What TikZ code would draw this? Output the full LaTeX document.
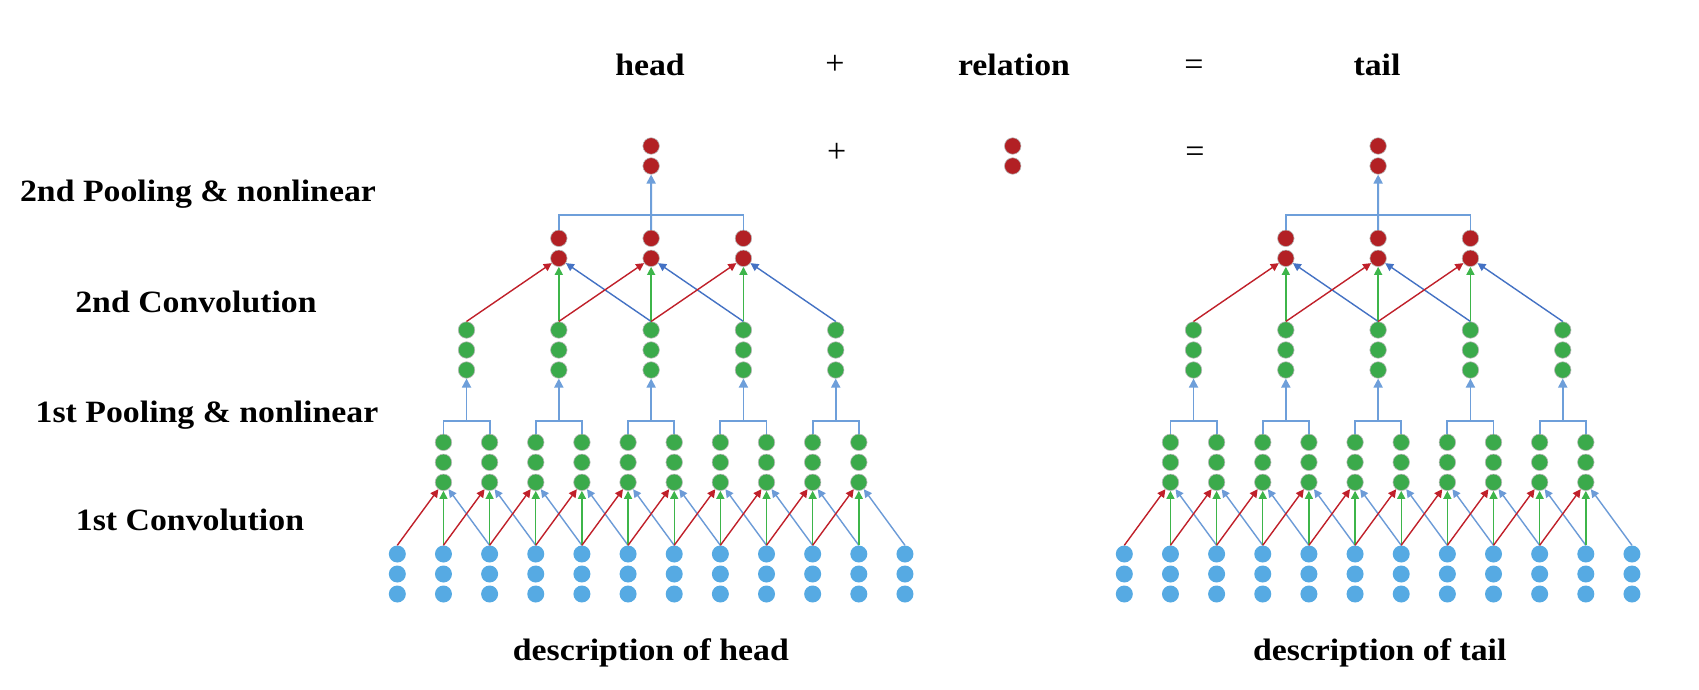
\documentclass[tikz,border=0pt]{standalone}
\usepackage{fontspec}
\setmainfont{Liberation Serif}
\newfontfamily\lblfont[FakeStretch=1.09]{Liberation Serif}
\usetikzlibrary{arrows.meta}
\definecolor{nred}{HTML}{B22024}
\definecolor{ngreen}{HTML}{3BAA4B}
\definecolor{nblue}{HTML}{56AAE3}
\definecolor{ared}{HTML}{C0202A}
\definecolor{agreen}{HTML}{3DB54A}
\definecolor{ablue}{HTML}{6C9BD7}
\definecolor{adblue}{HTML}{4472C4}
\definecolor{lblue}{HTML}{6E9FDA}
\begin{document}
\begin{tikzpicture}[x=1pt,y=-1pt,
  dot/.style={circle,inner sep=0pt,minimum size=16.5pt,draw=white!72!black,line width=0.6pt},
  rdot/.style={dot,fill=nred},
  gdot/.style={dot,fill=ngreen},
  bdot/.style={circle,inner sep=0pt,minimum size=17pt,fill=nblue},
  lbl/.style={font=\lblfont\bfseries\fontsize{31}{36}\selectfont,anchor=base,inner sep=0pt},
  op/.style={font=\fontsize{34}{38}\selectfont,inner sep=0pt},
  conv/.style={line width=1.4pt,-{Triangle[length=8pt,width=8pt]}},
  ra/.style={conv,draw=ared,fill=ared},
  ga/.style={conv,draw=agreen,fill=agreen},
  ba/.style={conv,draw=ablue,fill=ablue},
  bda/.style={conv,draw=adblue,fill=adblue},
  brk/.style={line width=1.8pt,draw=lblue},
  pool/.style={brk,-{Triangle[length=9pt,width=9pt]},fill=lblue}
]
\fill[white] (0,0) rectangle (1699,689);
\useasboundingbox (0,0) rectangle (1699,689);

% left labels
\node[lbl] (l1) at (198,201) {2nd Pooling \& nonlinear};
\node[lbl] (l2) at (196,312) {2nd Convolution};
\node[lbl] (l3) at (207,422) {1st Pooling \& nonlinear};
\node[lbl] (l4) at (190,530) {1st Convolution};

% top row
\node[lbl] (thead) at (650,75) {head};
\node[op] (tplus) at (835,65) {+};
\node[lbl] (trel) at (1014,75) {relation};
\node[op] (teq) at (1194,68) {=};
\node[lbl] (ttail) at (1377,75) {tail};

% middle row
\node[op] (mplus) at (836.7,153) {+};
\node[op] (meq) at (1195,154.5) {=};
\node[rdot] (rel-1) at (1012.7,146) {};
\node[rdot] (rel-2) at (1012.7,166) {};

% bottom
\node[lbl] (dhead) at (650.8,660) {description of head};
\node[lbl] (dtail) at (1379.7,660) {description of tail};

\foreach \ox/\p in {0/L,727/R}{
  % input
  \foreach \i in {0,...,11}{
    \foreach \r in {1,2,3}{
      \node[bdot] (b\p-\i-\r) at ({\ox+397.3+46.15*\i},{534+20*\r}) {};
    }
  }
  % first convolution
  \foreach \i in {1,...,10}{
    \foreach \r in {1,2,3}{
      \node[gdot] (g\p-\i-\r) at ({\ox+397.3+46.15*\i},{422.3+20*\r}) {};
    }
  }
  \foreach \i in {1,...,10}{
    \pgfmathtruncatemacro\im{\i-1}
    \pgfmathtruncatemacro\ip{\i+1}
    \draw[ra] (b\p-\im-1.north) -- (g\p-\i-3);
    \draw[ba] (b\p-\ip-1.north) -- (g\p-\i-3);
    \draw[ga] (b\p-\i-1.north) -- (g\p-\i-3);
  }
  % first pooling
  \foreach \k in {1,...,5}{
    \foreach \r in {1,2,3}{
      \node[gdot] (p\p-\k-\r) at ({\ox+397.3+46.15*(2*\k-0.5)},{310+20*\r}) {};
    }
    \pgfmathtruncatemacro\ka{2*\k-1}
    \pgfmathtruncatemacro\kb{2*\k}
    \coordinate (c\p-\k) at ({\ox+397.3+46.15*(2*\k-0.5)},421);
    \draw[brk] (g\p-\ka-1.north) |- (c\p-\k) -| (g\p-\kb-1.north);
    \draw[pool] (c\p-\k) -- (p\p-\k-3);
  }
  % second convolution
  \foreach \k in {2,3,4}{
    \foreach \r in {1,2}{
      \node[rdot] (r\p-\k-\r) at ({\ox+397.3+46.15*(2*\k-0.5)},{218.3+20*\r}) {};
    }
    \pgfmathtruncatemacro\km{\k-1}
    \pgfmathtruncatemacro\kp{\k+1}
    \draw[ra] (p\p-\km-1.north) -- (r\p-\k-2);
    \draw[bda] (p\p-\kp-1.north) -- (r\p-\k-2);
    \draw[ga] (p\p-\k-1.north) -- (r\p-\k-2);
  }
  % second pooling
  \node[rdot] (t\p-1) at ({\ox+651.1},146) {};
  \node[rdot] (t\p-2) at ({\ox+651.1},166) {};
  \coordinate (d\p) at ({\ox+651.1},215);
  \draw[brk] (r\p-2-1.north) |- (d\p) -| (r\p-4-1.north);
  \draw[pool] (r\p-3-1.north) -- (t\p-2);
}
\end{tikzpicture}
\end{document}
